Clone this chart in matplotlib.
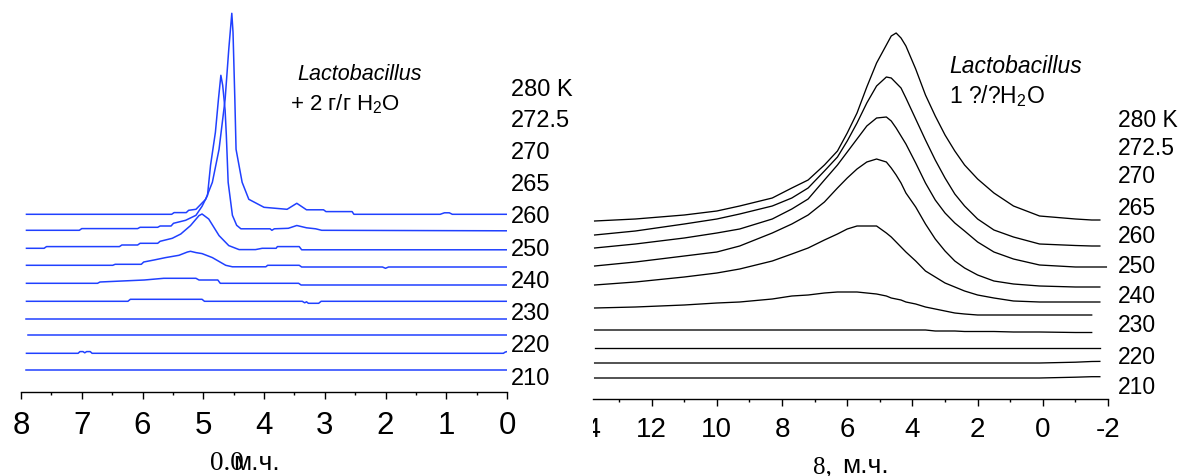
import numpy as np
import matplotlib
matplotlib.use("Agg")
import matplotlib.pyplot as plt
from matplotlib.ticker import MultipleLocator
from matplotlib.transforms import Bbox, TransformedBbox, blended_transform_factory

plt.rcParams['font.family'] = ['Liberation Sans', 'DejaVu Sans']
plt.rcParams['mathtext.fontset'] = 'custom'
plt.rcParams['mathtext.rm'] = 'Liberation Sans'
plt.rcParams['mathtext.it'] = 'Liberation Sans:italic'
plt.rcParams['axes.unicode_minus'] = False

nan = np.nan

temps = ["280 K", "272.5", "270", "265", "260", "250", "240", "230", "220", "210"]

# ---- left panel: Lactobacillus + 2 g/g H2O (blue), intensity above each baseline
left_offset = [178, 162, 144, 127, 109, 91, 73, 57, 39, 22]

a280_ppm = [7.91, 5.52, 5.48, 5.28, 5.24, 5.12, 4.96, 4.85, 4.74, 4.64, 4.58, 4.53, 4.51, 4.48, 4.46,
            4.36, 4.25, 4.0, 3.62, 3.46, 3.3, 3.02, 2.98, 2.55, 2.52, 1.1, 1.03, 0.95, 0.9, 0.0]
a280_int = [0, 0, 1.7, 1.7, 4, 5, 15, 32, 65, 115, 165, 201, 182, 115, 65,
            32, 15, 7, 5, 11, 4.5, 4.5, 2.7, 2.7, 0, 0, 1.5, 1.5, 0, 0]

a272_ppm = [7.91, 7.04, 7.0, 6.08, 6.04, 5.75, 5.71, 5.53, 5.49, 5.29, 5.12, 5.02, 4.93, 4.88, 4.80, 4.75, 4.71,
            4.68, 4.64, 4.62, 4.59, 4.52, 4.45, 4.38, 3.9, 3.87, 3.83, 3.6, 3.46, 3.3, 3.15, 3.05, 0.0]
a272_int = [0, 0, 1.7, 1.7, 3, 3, 4.3, 4.3, 7, 10, 15, 24, 35, 65, 98, 131, 155,
            145, 120, 95, 48, 15, 5, 1.5, 1.5, 0, 1.5, 2, 4.8, 2.5, 1.5, 0, -0.5]

a270_ppm = [7.91, 7.62, 7.58, 6.38, 6.34, 6.08, 6.04, 5.75, 5.71, 5.51, 5.37, 5.21, 5.07, 5.02, 4.91,
            4.74, 4.58, 4.41, 4.14, 4.03, 3.8, 3.78, 3.42, 3.38, 0.0]
a270_int = [0, 0, 1.7, 1.7, 3.3, 3.3, 5, 5, 7, 10, 14.3, 22.7, 32.7, 34.3, 29.3,
            12.7, 2.7, -1.3, -1.3, 0, 0, 1.7, 1.7, -1.5, -1.5]

a265_ppm = [7.91, 6.49, 6.45, 6.02, 5.98, 5.81, 5.62, 5.40, 5.26, 5.21, 5.12, 5.02, 4.85, 4.63, 4.52,
            3.97, 3.94, 3.42, 3.38, 2.05, 2.0, 1.95, 0.0]
a265_int = [0, 0, 1, 1, 3.3, 5.3, 7.7, 10, 13.3, 14, 12.7, 11.7, 7.7, 0, -1.5,
            -1.5, 0, 0, -1.7, -1.7, -3, -1.7, -1.7]

a260_ppm = [7.91, 6.74, 6.70, 5.97, 5.65, 5.12, 5.07, 4.76, 4.72, 3.43, 3.39, 0.0]
a260_int = [0, 0, 1.3, 3.3, 5, 5, 3.3, 3.3, 0, 0, -1.7, -1.7]

a250_ppm = [7.91, 6.24, 6.20, 5.02, 4.98, 3.37, 3.33, 3.30, 3.27, 3.10, 3.06, 0.0]
a250_int = [0, 0, 2, 2, 0, 0, -1.5, -0.5, -2, -2, 0, 0]

a240_ppm = [7.91, 0.0]
a240_int = [0, 0]
a230_ppm = [7.88, 0.0]
a230_int = [0, 0]
a220_ppm = [7.91, 7.06, 7.03, 6.98, 6.95, 6.92, 6.86, 6.83, 0.06, 0.03, 0.0]
a220_int = [0, 0, 1.7, 1.7, 0.5, 1.7, 1.7, 0, 0, 1.2, 1.7]
a210_ppm = [7.91, 0.0]
a210_int = [0, 0]

# ---- right panel: Lactobacillus 1 g/g H2O (black), common ppm grid
right_offset = [178, 164, 151, 133, 114, 91, 69, 51, 36, 21]
right_ppm = [13.75, 12.5, 11.0, 10.0, 9.3, 8.3, 7.7, 7.2, 6.7, 6.3, 6.0, 5.7, 5.4, 5.1, 4.8, 4.65, 4.5,
             4.35, 4.2, 3.9, 3.6, 3.3, 3.0, 2.7, 2.4, 2.0, 1.5, 0.9, 0.1, -1.0, -1.5, -1.75, -1.95]
b280 = [0, 2, 6, 10, 15, 23, 33, 41, 56, 70, 88, 108, 134, 158, 176, 185, 188,
        183, 175, 152, 126, 105, 86, 70, 56, 42, 28, 15, 5, 2, 1, 1, nan]
b272 = [0, 4, 11, 16, 21, 29, 37, 47, 64, 78, 94, 112, 132, 149, 158, 157, 152,
        147, 137, 116, 95, 75, 57, 41, 29, 16, 5, -2, -9, -10.5, -11, -11, nan]
b270 = [0, 4, 10, 15, 19, 29, 39, 49, 68, 83, 96, 109, 122, 130, 131, 127, 120,
        112, 104, 85, 65, 48, 35, 25, 17, 6, -4, -11, -17, -19, -19, -19, -19]
b265 = [0, 4, 10, 14, 20, 33, 42, 51, 64, 78, 88, 97, 104, 107, 104, 98, 91,
        83, 73, 59, 42, 27, 15, 5, -2, -9, -15, -18, -20, -21, -21, -21, nan]
b260 = [0, 3, 8, 12, 16, 24, 31, 37, 45, 51, 56, 59, 59, 59, 52, 48, 43,
        38, 33, 24, 14, 8, 2, -2, -6, -10, -13, -16, -17, -17, -17, -17, nan]
b250 = [0, 1, 3, 5, 6, 9, 12, 13, 15, 16, 16, 16, 15, 14, 12, 10, 9,
        8, 6, 4, 1, -1, -3, -5, -6, -7, -7, -7, -7, -7, -7, nan, nan]
b240 = [0] * 21 + [-1, -1, -1, -1.5, -1.5, -1.5, -2, -2, -2.5, -2.5, nan, nan]
b230 = [0] * 32 + [nan]
b220 = [0] * 29 + [0.8, 1.5, 1.6, nan]
b210 = [0] * 29 + [0.8, 1.3, 1.3, nan]

left_ppm = [a280_ppm, a272_ppm, a270_ppm, a265_ppm, a260_ppm, a250_ppm, a240_ppm, a230_ppm, a220_ppm, a210_ppm]
left_int = [a280_int, a272_int, a270_int, a265_int, a260_int, a250_int, a240_int, a230_int, a220_int, a210_int]
right_int = [b280, b272, b270, b265, b260, b250, b240, b230, b220, b210]

BLUE = '#2040ff'
W, H = 1183, 477


def box(x0, y0, x1, y1):
    # pixel edges (top-left origin) -> figure fraction rect
    return [x0 / W, 1 - y1 / H, (x1 - x0) / W, (y1 - y0) / H]


def ftext(x, y, s, **kw):
    fig.text(x / W, 1 - y / H, s, **kw)


fig = plt.figure(figsize=(W / 100, H / 100), dpi=100)
axl = fig.add_axes(box(21, 0, 507, 393.3))
axr = fig.add_axes(box(593, 0, 1108, 400))

for ax in (axl, axr):
    ax.set_facecolor('none')
    for s in ('top', 'left', 'right'):
        ax.spines[s].set_visible(False)
    ax.spines['bottom'].set_linewidth(1.0)
    ax.set_yticks([])
    ax.tick_params(axis='x', which='major', direction='out', length=5, width=1.0)
    ax.tick_params(axis='x', which='minor', direction='out', length=2.5, width=1.0)

for off, x, y in zip(left_offset, left_ppm, left_int):
    axl.plot(x, np.array(y) + off, color=BLUE, lw=1.1)
axl.set_xlim(8, 0)
axl.set_ylim(0, 393.3)
axl.xaxis.set_major_locator(MultipleLocator(1))
axl.xaxis.set_minor_locator(MultipleLocator(0.5))
axl.tick_params(axis='x', labelsize=22.5, pad=8)

for off, y in zip(right_offset, right_int):
    axr.plot(right_ppm, np.array(y) + off, color='black', lw=0.95)
axr.set_xlim(13.8, -2)
axr.set_ylim(0, 400)
axr.xaxis.set_major_locator(MultipleLocator(2))
axr.xaxis.set_minor_locator(MultipleLocator(1))
axr.tick_params(axis='x', labelsize=20, pad=7)

# tick label "14" cut off by the left edge of the right panel
tr = blended_transform_factory(axr.transData, axr.transAxes)
t14 = axr.annotate("14", xy=(14, 0), xycoords=tr, xytext=(0, -12), textcoords='offset points',
                   ha='center', va='top', fontsize=20, annotation_clip=False)
t14.set_clip_box(TransformedBbox(Bbox.from_extents(593 / W, 0, 1, 1), fig.transFigure))
t14.set_clip_on(True)

# temperature labels
left_base = [96, 127, 159, 191, 223, 256, 288, 320, 352, 385]
right_base = [127, 155, 183, 215, 243, 273, 303, 332, 364, 394]
for s, yl, yr in zip(temps, left_base, right_base):
    ftext(511, yl, s, fontsize=17, va='baseline')
    ftext(1118, yr, s, fontsize=16.5, va='baseline')

# sample annotations
ftext(297, 80, "Lactobacillus", fontsize=15.5, style='italic', va='baseline')
ftext(290, 110, "+ 2 г/г H$_2$O", fontsize=16, va='baseline')
ftext(949, 73, "Lactobacillus", fontsize=16.5, style='italic', va='baseline')
ftext(949, 103, "1 ?/?H$_2$O", fontsize=16.5, va='baseline')

# axis titles
ftext(210, 470, "0.0", fontsize=19.5, family='Liberation Serif', va='baseline')
ftext(233, 470, "м.ч.", fontsize=19, va='baseline')
ftext(813, 473, "8,", fontsize=18, family='Liberation Serif', va='baseline')
ftext(842, 473, "м.ч.", fontsize=19, va='baseline')

fig.savefig("out.png", dpi=100)
